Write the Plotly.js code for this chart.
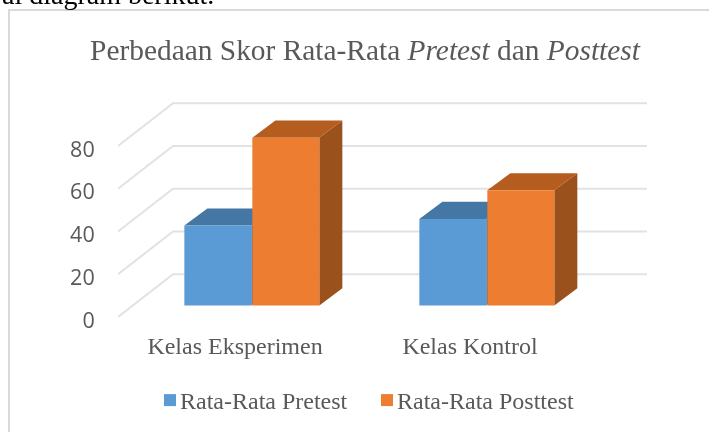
<!DOCTYPE html>
<html><head><meta charset="utf-8">
<script src="https://cdn.plot.ly/plotly-3.0.1.min.js"></script>
<style>html,body{margin:0;padding:0;background:#fff;overflow:hidden}#chart{filter:blur(0.4px)}</style>
</head><body><div id="chart" style="width:709px;height:432px"></div>
<script>
const categories = ['Kelas Eksperimen', 'Kelas Kontrol'];
const categoryIndex = [0, 1];
const pretest = [37.4, 40.5];
const posttest = [78.5, 53.9];
const yTicks = [0, 20, 40, 60, 80];

const serif = '"Liberation Serif", "Times New Roman", serif';
const grey = '#595959';
const barBase = 6.8, barWidth = 0.285;
const offsetPre = -0.2157, offsetPost = 0.0736;
const depthX = 0.098, depthY = 8;
const gridFrontX = -0.498, gridBackX = -0.264, gridEndX = 1.753, gridRise = 20, gridDrop = 1.4;

function poly(points) {
  return 'M' + points.map(p => p.join(',')).join('L') + 'Z';
}
function face(points, color) {
  return {type: 'path', layer: 'below', xref: 'x', yref: 'y', path: poly(points),
          fillcolor: color, line: {width: 0}};
}
const shapes = [];
yTicks.forEach(v => shapes.push({
  type: 'path', layer: 'below', xref: 'x', yref: 'y',
  path: `M${gridFrontX},${v + gridDrop}L${gridBackX},${v + gridDrop + gridRise}L${gridEndX},${v + gridDrop + gridRise}`,
  line: {color: '#e2e2e2', width: 2}
}));
function box(x, offset, value, topColor, sideColor) {
  const l = x + offset, r = l + barWidth, b = barBase, t = barBase + value;
  shapes.push(face([[r, b], [r, t], [r + depthX, t + depthY], [r + depthX, b + depthY]], sideColor));
  shapes.push(face([[l, t], [r, t], [r + depthX, t + depthY], [l + depthX, t + depthY]], topColor));
}
categoryIndex.forEach((x, i) => {
  box(x, offsetPre, pretest[i], '#4477a3', '#3a6b97');
  box(x, offsetPost, posttest[i], '#b55d1f', '#9b511c');
});
// chart frame
shapes.push({type: 'path', xref: 'paper', yref: 'paper', layer: 'above',
  path: `M${(9 - 118) / 529},${(320 - 432) / 230}L${(9 - 118) / 529},${(320 - 10) / 230}L${(709 - 118) / 529},${(320 - 10) / 230}`,
  line: {color: '#d9d9d9', width: 2}});

const traces = [
  {type: 'bar', name: 'Rata-Rata Pretest', x: categoryIndex, y: pretest, base: barBase,
   width: barWidth, offset: offsetPre, marker: {color: '#5b9bd5', line: {width: 0}}, hoverinfo: 'y'},
  {type: 'bar', name: 'Rata-Rata Posttest', x: categoryIndex, y: posttest, base: barBase,
   width: barWidth, offset: offsetPost, marker: {color: '#ed7d31', line: {width: 0}}, hoverinfo: 'y'}
];
const layout = {
  width: 709, height: 432,
  margin: {l: 118, r: 62, t: 90, b: 112, pad: 0},
  paper_bgcolor: '#fff', plot_bgcolor: 'rgba(0,0,0,0)',
  barmode: 'overlay',
  title: {text: 'Perbedaan Skor Rata-Rata <i>Pretest</i> dan <i>Posttest</i>',
          font: {family: serif, size: 29.4, color: grey},
          x: 365 / 709, xanchor: 'center', xref: 'container',
          y: 1 - 50 / 432, yanchor: 'middle', yref: 'container'},
  xaxis: {range: [gridFrontX, gridEndX], tickmode: 'array', tickvals: categoryIndex, ticktext: categories,
          showgrid: false, zeroline: false, showline: false, ticks: 'outside', ticklen: 4,
          tickcolor: 'rgba(0,0,0,0)', tickfont: {family: serif, size: 24, color: grey}},
  yaxis: {range: [0, 107.6], tickmode: 'array', tickvals: yTicks, showgrid: false, zeroline: false,
          showline: false, ticks: 'outside', ticklen: 18, tickcolor: 'rgba(0,0,0,0)',
          tickfont: {family: '"Open Sans", sans-serif', size: 21.5, color: grey}},
  legend: {orientation: 'h', xref: 'container', x: 140 / 709, xanchor: 'left',
           yref: 'container', y: 1 - 378 / 432, yanchor: 'top',
           font: {family: serif, size: 24, color: grey}, entrywidth: 172, entrywidthmode: 'pixels',
           bgcolor: 'rgba(0,0,0,0)', traceorder: 'normal'},
  shapes: shapes,
  annotations: [{xref: 'paper', yref: 'paper', x: (0 - 118) / 529, y: (320 - 12) / 230,
                 xanchor: 'left', yanchor: 'bottom', showarrow: false, align: 'left',
                 text: 'al diagram berikut.', font: {family: serif, size: 28, color: '#000'}}]
};
Plotly.newPlot('chart', traces, layout, {displayModeBar: false, staticPlot: true}).then(gd => {
  gd.querySelectorAll('.legendpoints').forEach(p => p.setAttribute('transform', 'translate(10,0)'));
});
</script></body></html>
